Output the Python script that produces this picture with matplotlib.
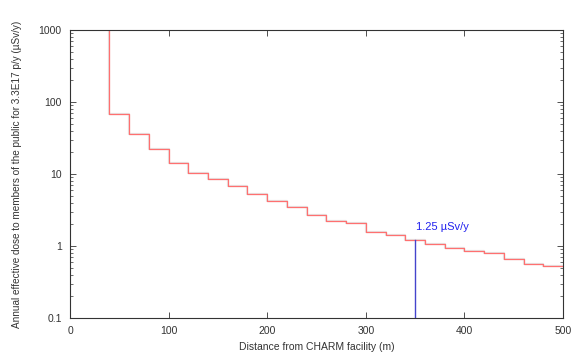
import numpy as np
import matplotlib.pyplot as plt
from matplotlib.ticker import LogLocator, NullFormatter, FixedLocator

plt.rcParams['font.family'] = ['Liberation Sans', 'DejaVu Sans']

# bin edges (m) and dose per bin (uSv/y)
edges = [20, 40, 60, 80, 100, 120, 140, 160, 180, 200, 220, 240, 260, 280, 300,
         320, 340, 360, 380, 400, 420, 440, 460, 480, 500]
dose = [5000, 68, 35.6, 22.2, 14.1, 10.4, 8.44, 6.88, 5.22, 4.26, 3.45, 2.72,
        2.25, 2.07, 1.58, 1.41, 1.2, 1.06, 0.93, 0.853, 0.807, 0.66, 0.557, 0.527]
limit_x = 350
limit_dose = 1.2
limit_label = '1.25 µSv/y'

fig = plt.figure(figsize=(5.71, 3.52), dpi=100)
ax = fig.add_axes([70/571, 1-318/352, 493/571, 288/352])

x = np.array(edges)
y = np.array(dose + [dose[-1]])
ax.step(x, y, where='post', color='#aaaaaa', lw=1.6, alpha=0.3)
ax.step(x, y, where='post', color='#ff7070', lw=0.9)

ax.plot([limit_x, limit_x], [0.1, limit_dose], color='#4444cc', lw=1.0)
ax.text(limit_x + 1, 1.85, limit_label, color='#2222ee', fontsize=8,
        ha='left', va='center')

ax.set_yscale('log')
ax.set_xlim(0, 500)
ax.set_ylim(0.1, 1000)
ax.xaxis.set_major_locator(FixedLocator([0, 100, 200, 300, 400, 500]))
ax.set_yticks([0.1, 1, 10, 100, 1000])
ax.set_yticklabels(['0.1', '1', '10', '100', '1000'])
ax.yaxis.set_minor_locator(LogLocator(base=10, subs=np.arange(2, 10), numticks=20))
ax.yaxis.set_minor_formatter(NullFormatter())
ax.tick_params(which='both', direction='in', top=True, right=True,
               labelsize=7.5, colors='#333333', pad=6)
ax.tick_params(which='major', length=4, width=0.6)
ax.tick_params(which='minor', length=2, width=0.5)
for s in ax.spines.values():
    s.set_color('#333333')
    s.set_linewidth(0.8)

ax.set_xlabel('Distance from CHARM facility (m)', fontsize=7.5, color='#333333', labelpad=4)
ax.set_ylabel('Annual effective dose to members of the public for 3.3E17 p/y (µSv/y)',
              fontsize=7.2, color='#333333', labelpad=12)

fig.savefig('out.png', dpi=100)
